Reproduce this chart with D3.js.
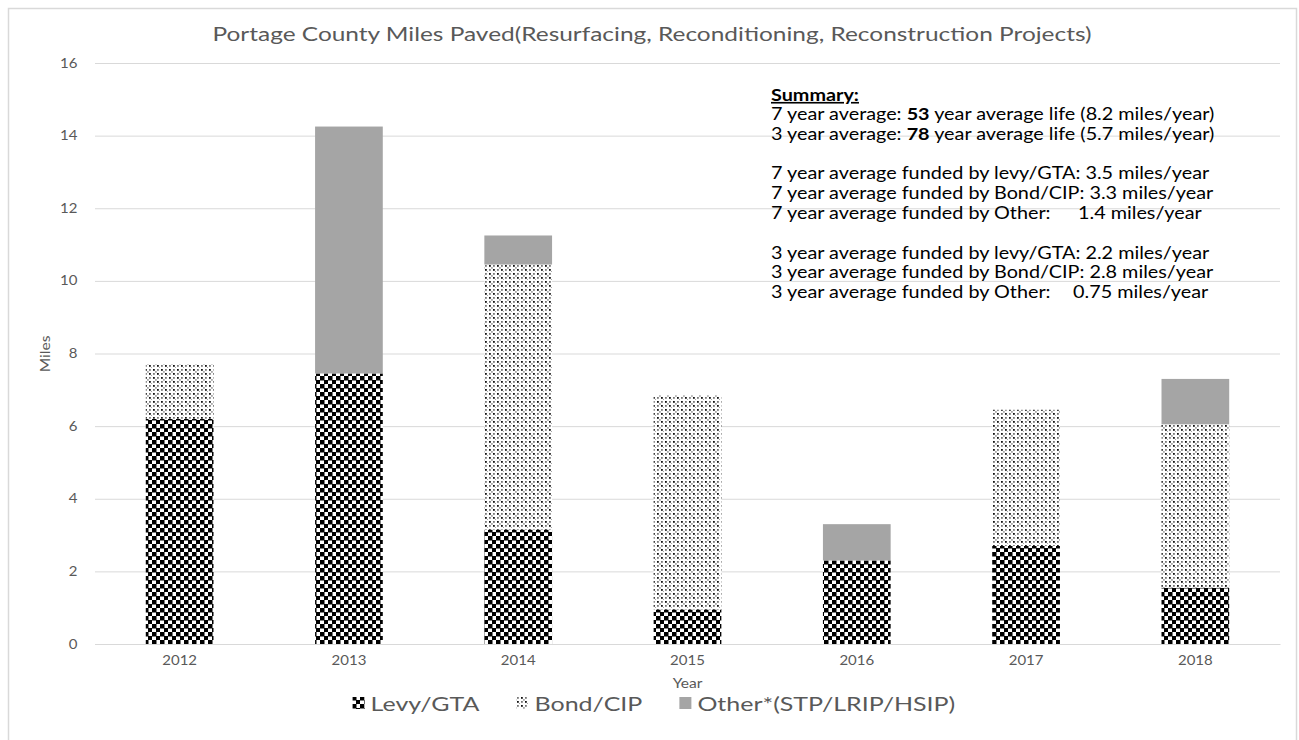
<!DOCTYPE html>
<html>
<head>
<meta charset="utf-8">
<script src="https://cdn.jsdelivr.net/npm/d3@7"></script>
<style>
  html, body { margin: 0; padding: 0; background: #fff; }
  svg { display: block; font-family: Lato, "Open Sans", sans-serif; }
</style>
</head>
<body>
<svg id="chart" width="1299" height="740"></svg>
<script>
// Miles paved per year, split by funding source
const years = ["2012", "2013", "2014", "2015", "2016", "2017", "2018"];
const levyGTA = [6.2, 7.45, 3.15, 0.95, 2.3, 2.7, 1.55];
const bondCIP = [1.5, 0, 7.3, 5.9, 0, 3.75, 4.5];
const otherFunds = [0, 6.8, 0.8, 0, 1.0, 0, 1.25];
const yTicks = [0, 2, 4, 6, 8, 10, 12, 14, 16];
const seriesNames = ["Levy/GTA", "Bond/CIP", "Other*(STP/LRIP/HSIP)"];
const titleText = "Portage County Miles Paved(Resurfacing, Reconditioning, Reconstruction Projects)";
const summaryLines = [
  { parts: [["7 year average: ", false], ["53", true], [" year average life (8.2 miles/year)", false]] },
  { parts: [["3 year average: ", false], ["78", true], [" year average life (5.7 miles/year)", false]] },
  null,
  { parts: [["7 year average funded by levy/GTA: 3.5 miles/year", false]] },
  { parts: [["7 year average funded by Bond/CIP: 3.3 miles/year", false]] },
  { parts: [["7 year average funded by Other:", false]], tail: "1.4 miles/year", tailX: 1078 },
  null,
  { parts: [["3 year average funded by levy/GTA: 2.2 miles/year", false]] },
  { parts: [["3 year average funded by Bond/CIP: 2.8 miles/year", false]] },
  { parts: [["3 year average funded by Other:", false]], tail: "0.75 miles/year", tailX: 1073 }
];

const keys = ["levy", "bond", "other"];
const table = years.map((y, i) => ({ year: y, levy: levyGTA[i], bond: bondCIP[i], other: otherFunds[i] }));

const svg = d3.select("#chart");
const margin = { left: 95, right: 1280, top: 63, bottom: 644 };
const widen = 1.2; // horizontal stretch applied to the text glyphs

// Place a text element at (x, y) with a horizontal stretch
function placeText(sel, x, y, k = widen) {
  return sel.attr("x", 0).attr("y", 0).attr("transform", `translate(${x},${y}) scale(${k},1)`);
}

// Fill patterns
const defs = svg.append("defs");
const checker = defs.append("pattern").attr("id", "pat-levy")
  .attr("patternUnits", "userSpaceOnUse").attr("width", 8).attr("height", 8);
checker.append("rect").attr("width", 8).attr("height", 8).attr("fill", "#fff");
checker.append("rect").attr("x", 0).attr("y", 0).attr("width", 4.5).attr("height", 4.5).attr("fill", "#000");
checker.append("rect").attr("x", 4).attr("y", 4).attr("width", 4.5).attr("height", 4.5).attr("fill", "#000");

const dots = defs.append("pattern").attr("id", "pat-bond")
  .attr("patternUnits", "userSpaceOnUse").attr("width", 8).attr("height", 8);
dots.append("rect").attr("width", 8).attr("height", 8).attr("fill", "#fff");
[[1, 1, "#111"], [5, 5, "#111"], [1, 5, "#777"], [5, 1, "#777"], [3, 3, "#aaa"], [7, 7, "#aaa"]].forEach(([x, y, c]) => {
  dots.append("rect").attr("x", x).attr("y", y).attr("width", 1.8).attr("height", 1.8).attr("fill", c);
});

const fills = { levy: "url(#pat-levy)", bond: "url(#pat-bond)", other: "#a5a5a5" };

// Outer frame
svg.append("rect").attr("x", 8.5).attr("y", 8.5).attr("width", 1288).attr("height", 740)
  .attr("fill", "none").attr("stroke", "#d9d9d9").attr("stroke-width", 1.5);

const x = d3.scaleBand().domain(years).range([margin.left, margin.right])
  .paddingInner(0.6).paddingOuter(0.3);
const y = d3.scaleLinear().domain([0, 16]).range([margin.bottom, margin.top]);

// Gridlines and y labels
const yAxis = d3.axisLeft(y).tickValues(yTicks).tickSize(-(margin.right - margin.left)).tickPadding(14);
const gy = svg.append("g").attr("transform", `translate(${margin.left},0)`).call(yAxis);
gy.select(".domain").remove();
gy.selectAll(".tick line").attr("stroke", "#d9d9d9").attr("stroke-width", 1);
gy.selectAll(".tick text").attr("fill", "#595959").attr("font-size", 12.5)
  .attr("font-family", "Lato, sans-serif")
  .attr("transform", `translate(-2,0) scale(${widen},1)`).attr("x", -13);

// Stacked bars
const stacked = d3.stack().keys(keys)(table);
svg.append("g").selectAll("g").data(stacked).join("g")
  .attr("fill", d => fills[d.key])
  .selectAll("rect").data(d => d.filter(s => s[1] - s[0] > 0)).join("rect")
  .attr("x", d => x(d.data.year))
  .attr("width", x.bandwidth())
  .attr("y", d => y(d[1]))
  .attr("height", d => y(d[0]) - y(d[1]));

// X axis labels
const xAxis = d3.axisBottom(x).tickSize(0).tickPadding(12);
const gx = svg.append("g").attr("transform", `translate(0,${margin.bottom})`).call(xAxis);
gx.select(".domain").attr("stroke", "#d9d9d9");
gx.selectAll(".tick text").attr("fill", "#595959").attr("font-size", 12.5)
  .attr("font-family", "Lato, sans-serif").attr("transform", `scale(${widen},1)`);

// Axis titles
placeText(svg.append("text"), (margin.left + margin.right) / 2, 688)
  .attr("text-anchor", "middle").attr("fill", "#595959").attr("font-size", 13).text("Year");
svg.append("text").attr("transform", `translate(50,354) rotate(-90) scale(${widen},1)`)
  .attr("text-anchor", "middle").attr("fill", "#595959").attr("font-size", 13).text("Miles");

// Title
svg.append("text").attr("x", 652).attr("y", 41).attr("text-anchor", "middle")
  .attr("fill", "#595959").attr("font-size", 19.5)
  .attr("textLength", 879).attr("lengthAdjust", "spacingAndGlyphs").text(titleText);

// Legend, centred on the chart
const legendWiden = 1.25;
const lg = svg.append("g");
const itemW = [];
const legendTexts = seriesNames.map((name, i) => {
  const t = lg.append("text").attr("fill", "#595959").attr("font-size", 20).text(name);
  itemW.push(t.node().getComputedTextLength() * legendWiden);
  return t;
});
const markerW = 12, markerGap = 6, itemGap = 37;
const totalW = d3.sum(itemW) + seriesNames.length * (markerW + markerGap) + itemGap * (seriesNames.length - 1);
let lx = 654 - totalW / 2;
keys.forEach((k, i) => {
  lg.append("rect").attr("x", lx).attr("y", 697).attr("width", markerW).attr("height", markerW)
    .attr("fill", fills[k]);
  placeText(legendTexts[i], lx + markerW + markerGap, 710.5, legendWiden);
  lx += markerW + markerGap + itemW[i] + itemGap;
});

// Summary block
const sx = 771;
const sg = svg.append("g").attr("fill", "#000").attr("font-size", 16.5);
placeText(sg.append("text"), sx, 101).attr("font-weight", "bold")
  .attr("text-decoration", "underline").text("Summary:");
summaryLines.forEach((line, i) => {
  if (!line) return;
  const ly = 120 + i * 19.8;
  const t = placeText(sg.append("text"), sx, ly);
  line.parts.forEach(([s, b]) => {
    t.append("tspan").attr("font-weight", b ? "bold" : null).text(s);
  });
  if (line.tail) {
    placeText(sg.append("text"), line.tailX, ly).text(line.tail);
  }
});
</script>
</body>
</html>
